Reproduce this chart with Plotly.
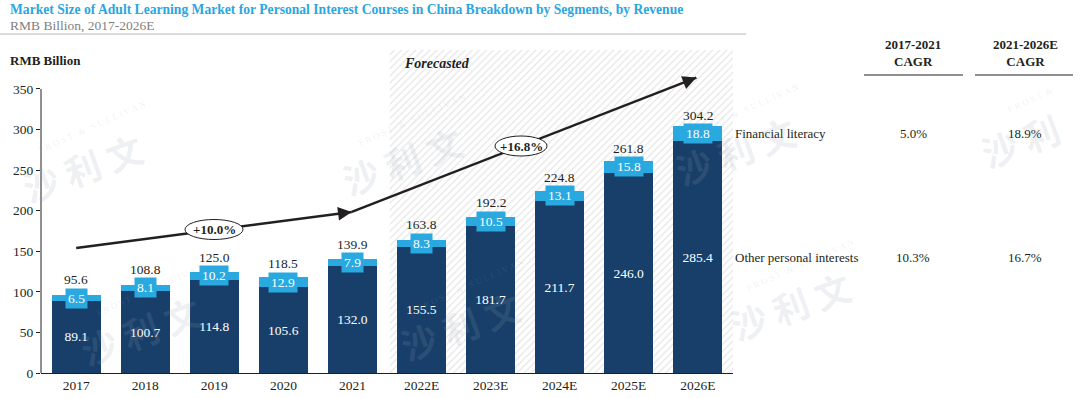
import plotly.graph_objects as go

# ---------------- data ----------------
categories = ["2017", "2018", "2019", "2020", "2021", "2022E", "2023E", "2024E", "2025E", "2026E"]
other_personal = [89.1, 100.7, 114.8, 105.6, 132.0, 155.5, 181.7, 211.7, 246.0, 285.4]
financial_literacy = [6.5, 8.1, 10.2, 12.9, 7.9, 8.3, 10.5, 13.1, 15.8, 18.8]
totals = [95.6, 108.8, 125.0, 118.5, 139.9, 163.8, 192.2, 224.8, 261.8, 304.2]
y_ticks = [0, 50, 100, 150, 200, 250, 300, 350]
cagr_headers = ["2017-2021<br>CAGR", "2021-2026E<br>CAGR"]
cagr_fin = ["5.0%", "18.9%"]
cagr_other = ["10.3%", "16.7%"]
cagr_hist = "+10.0%"
cagr_fore = "+16.8%"

NAVY = "#183F6A"
LBLUE = "#29A9E0"
INK = "#231F20"
SERIF = "Liberation Serif"

W, H = 1080, 398
L, R, T, B = 41, 347, 50, 25
PW, PH = W - L - R, H - T - B
YMAX = 398.0
XR = [-0.51, 9.51]


def xp(px):
    return (px - L) / PW


def yp(py):
    return (H - B - py) / PH


idx = list(range(len(categories)))

fig = go.Figure()

# forecast hatched area (main subplot, underneath the bars)
fig.add_trace(go.Scatter(
    x=[4.54, 9.51, 9.51, 4.54, 4.54], y=[0, 0, YMAX, YMAX, 0],
    fill="toself", mode="none", fillcolor="white",
    fillpattern=dict(shape="/", fgcolor="#C9C9C9", bgcolor="white", size=5, solidity=0.22),
    hoverinfo="skip", showlegend=False, xaxis="x", yaxis="y"))

# bars on an overlaid x axis so they are drawn above the hatching
fig.add_trace(go.Bar(
    x=idx, y=other_personal, name="Other personal interests", marker_color=NAVY,
    marker_line_width=0, width=0.71,
    text=[f"{v:.1f}" for v in other_personal], textposition="inside",
    insidetextanchor="middle", textangle=0,
    textfont=dict(color="white", size=13.5, family=SERIF), showlegend=False,
    xaxis="x2", yaxis="y"))
fig.add_trace(go.Bar(
    x=idx, y=financial_literacy, name="Financial literacy", marker_color=LBLUE,
    marker_line_width=0, width=0.71, showlegend=False, xaxis="x2", yaxis="y"))

ann = []
shapes = []

ypx = PH / YMAX
box_half = 9 / ypx
for i, (o, f, t) in enumerate(zip(other_personal, financial_literacy, totals)):
    mid = o + f / 2
    ann.append(dict(x=i, y=mid, xref="x", yref="y", text=f"{f:.1f}", showarrow=False,
                    font=dict(color="white", size=13.5, family=SERIF), bgcolor=LBLUE,
                    borderpad=2, xanchor="center", yanchor="middle"))
    top = max(t, mid + box_half)
    ann.append(dict(x=i, y=top, xref="x", yref="y", text=f"{t:.1f}", showarrow=False,
                    font=dict(color=INK, size=13.5, family=SERIF),
                    xanchor="center", yanchor="bottom", yshift=0))

# y axis line (0-350)
shapes.append(dict(type="line", xref="x domain", yref="y", x0=0, x1=0, y0=0, y1=350,
                   line=dict(color=INK, width=1)))

# CAGR arrows
xpx = PW / (XR[1] - XR[0])
arrows = [((0.0, 154.0), (3.99, 198.5)), ((3.99, 198.5), (8.98, 364.0))]
for (x0, y0), (x1, y1) in arrows:
    shapes.append(dict(type="line", xref="x", yref="y", x0=x0, y0=y0, x1=x1, y1=y1,
                       line=dict(color=INK, width=2.5)))
    dx, dy = (x1 - x0) * xpx, -(y1 - y0) * ypx
    ln = (dx * dx + dy * dy) ** 0.5
    ann.append(dict(x=x1, y=y1, xref="x", yref="y", text="", showarrow=True,
                    ax=-dx / ln * 12, ay=-dy / ln * 12, axref="pixel", ayref="pixel",
                    arrowhead=2, arrowsize=1.1, arrowwidth=2.5, arrowcolor=INK))

# ellipses
for (cx, cy, w, h, txt) in [(214, 229.5, 58, 20, cagr_hist), (521, 146, 52, 20, cagr_fore)]:
    shapes.append(dict(type="circle", xref="paper", yref="paper",
                       x0=xp(cx - w / 2), x1=xp(cx + w / 2), y0=yp(cy + h / 2), y1=yp(cy - h / 2),
                       line=dict(color=INK, width=1), fillcolor="white"))
    ann.append(dict(x=xp(cx), y=yp(cy), xref="paper", yref="paper", text=f"<b>{txt}</b>",
                    xanchor="center", yanchor="middle",
                    showarrow=False, font=dict(color=INK, size=13, family=SERIF)))

# title block
ann.append(dict(x=xp(8), y=yp(10), xref="paper", yref="paper", xanchor="left", yanchor="middle",
                text="<b>Market Size of Adult Learning Market for Personal Interest Courses in China Breakdown by Segments, by Revenue</b>",
                showarrow=False, font=dict(color="#2AA7DF", size=13.6, family=SERIF)))
ann.append(dict(x=xp(8), y=yp(25), xref="paper", yref="paper", xanchor="left", yanchor="middle",
                text="RMB Billion, 2017-2026E", showarrow=False,
                font=dict(color="#7F7F7F", size=13.5, family=SERIF)))
shapes.append(dict(type="line", xref="paper", yref="paper", x0=xp(0), x1=xp(746), y0=yp(34), y1=yp(34),
                   line=dict(color="#CFCFCF", width=1.5)))
ann.append(dict(x=xp(8), y=yp(60), xref="paper", yref="paper", xanchor="left", yanchor="middle",
                text="<b>RMB Billion</b>", showarrow=False, font=dict(color=INK, size=13, family=SERIF)))
ann.append(dict(x=xp(402), y=yp(63), xref="paper", yref="paper", xanchor="left", yanchor="middle",
                text="<b><i>Forecasted</i></b>", showarrow=False, font=dict(color=INK, size=14, family=SERIF)))

# CAGR table
for cx, hdr, x0, x1 in [(913, cagr_headers[0], 864, 963), (1025, cagr_headers[1], 975, 1073)]:
    ann.append(dict(x=xp(cx), y=yp(53), xref="paper", yref="paper", xanchor="center", yanchor="middle",
                    text=f"<b>{hdr}</b>", showarrow=False, font=dict(color=INK, size=13, family=SERIF)))
    shapes.append(dict(type="line", xref="paper", yref="paper", x0=xp(x0), x1=xp(x1), y0=yp(75), y1=yp(75),
                       line=dict(color=INK, width=1.2)))

fin_y = other_personal[-1] + financial_literacy[-1] / 2
oth_y = other_personal[-1] / 2
for yy, label, vals in [(fin_y, "Financial literacy", cagr_fin), (oth_y, "Other personal interests", cagr_other)]:
    ann.append(dict(x=xp(733), y=yy, xref="paper", yref="y", xanchor="left", yanchor="middle",
                    text=label, showarrow=False, font=dict(color=INK, size=13, family=SERIF)))
    for cx, v in zip([913, 1025], vals):
        ann.append(dict(x=xp(cx), y=yy, xref="paper", yref="y", xanchor="center", yanchor="middle",
                        text=v, showarrow=False, font=dict(color=INK, size=13, family=SERIF)))

# watermark tiles
WM = "rgba(150,165,180,0.16)"
tiles = [(82, 167, "沙 利 文", "F R O S T   &   S U L L I V A N"),
         (402, 160, "沙 利 文", "F R O S T   &   S U L L I V A N"),
         (735, 150, "沙 利 文", "F R O S T   &   S U L L I V A N"),
         (1020, 140, "沙 利", "F R O S T  &"),
         (140, 330, "沙 利 文", "F R O S T   &   S U L L I V A N"),
         (460, 325, "沙 利 文", "F R O S T   &   S U L L I V A N"),
         (790, 305, "沙 利 文", "F R O S T   &   S U L L I V A N")]
for cx, cy, big, small in tiles:
    ann.append(dict(x=xp(cx), y=yp(cy), xref="paper", yref="paper", text=f"<b>{big}</b>", showarrow=False,
                    xanchor="center", yanchor="middle",
                    textangle=-20, font=dict(color=WM, size=36, family="Noto Sans CJK SC")))
    ann.append(dict(x=xp(cx + 10), y=yp(cy - 40), xref="paper", yref="paper",
                    text=small, showarrow=False,
                    xanchor="center", yanchor="middle",
                    textangle=-24, font=dict(color=WM, size=9, family=SERIF)))

axis_common = dict(range=XR, showgrid=False, zeroline=False)
fig.update_layout(
    width=W, height=H, margin=dict(l=L, r=R, t=T, b=B, autoexpand=False),
    barmode="stack", plot_bgcolor="white", paper_bgcolor="white",
    annotations=ann, shapes=shapes, hovermode=False,
    xaxis=dict(**axis_common, tickvals=idx, ticktext=categories, showline=True,
               linecolor=INK, linewidth=1, ticks="",
               tickfont=dict(size=13.5, family=SERIF, color=INK)),
    xaxis2=dict(**axis_common, overlaying="x", visible=False),
    yaxis=dict(range=[0, YMAX], tickvals=y_ticks, showline=False, ticks="outside", ticklen=4,
               tickcolor=INK, showgrid=False, zeroline=False,
               tickfont=dict(size=13.5, family=SERIF, color=INK)),
)

fig.write_html("out.html", config={"displayModeBar": False, "staticPlot": True},
               post_script="document.body.style.margin='0';document.body.style.overflow='hidden';")
